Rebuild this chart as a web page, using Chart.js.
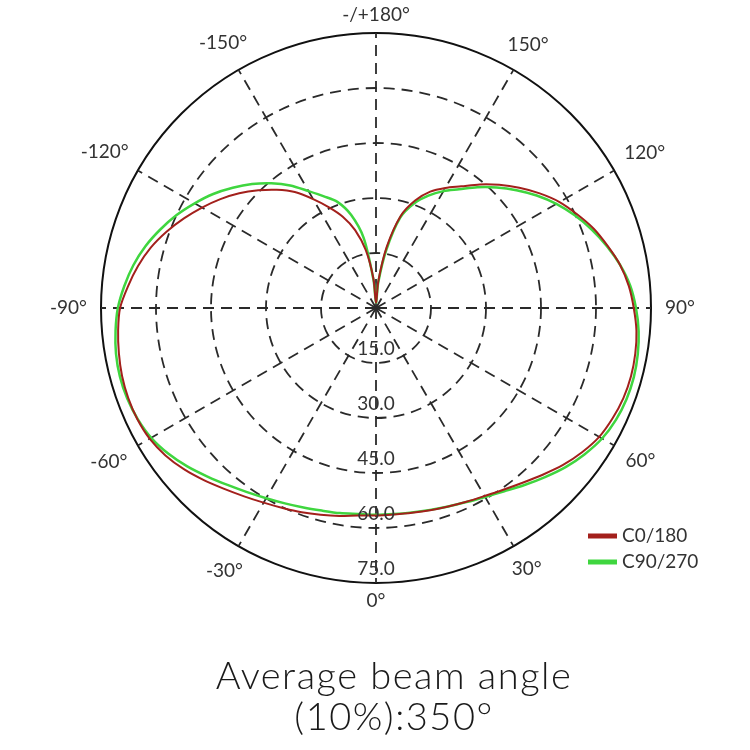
<!DOCTYPE html>
<html>
<head>
<meta charset="utf-8">
<script src="https://cdn.jsdelivr.net/npm/chart.js@4.4.1/dist/chart.umd.min.js"></script>
<style>
  body { margin: 0; background: #fff; }
  canvas { display: block; }
</style>
</head>
<body>
<canvas id="polar" width="750" height="750"></canvas>
<script>
// angles in degrees, clockwise from the top of the diagram
const angles = [
  180, 175, 170, 165, 160, 155, 150, 145, 140, 135, 130, 125,
  120, 115, 110, 105, 100, 95, 90, 85, 80, 75, 70, 65,
  60, 55, 50, 45, 40, 35, 30, 25, 20, 15, 10, 5,
  0, -5, -10, -15, -20, -25, -30, -35, -40, -45, -50, -55,
  -60, -65, -70, -75, -80, -85, -90, -95, -100, -105, -110, -115,
  -120, -125, -130, -135, -140, -145, -150, -155, -160, -165, -170, -175
];

const c0_180 = [
  1.5, 7.5, 17, 26, 31.2, 35, 37.8, 40.5, 44, 47.5, 51, 54.5,
  57.8, 60.5, 63.2, 65.4, 67.6, 69.2, 70.3, 71.3, 71.8, 72, 71.8, 71.2,
  70.3, 68.6, 66.6, 64.3, 62.2, 60.5, 59.2, 58.3, 57.6, 57.1, 56.7, 56.5,
  56.6, 56.8, 57.6, 58.4, 59.3, 60.2, 61.3, 62.7, 64.4, 66.4, 68.4, 70.1,
  71.3, 71.8, 71.9, 71.7, 71.2, 70.6, 69.8, 67.9, 65.9, 63.6, 60.8, 57.8,
  54.8, 51.8, 48.7, 45.4, 42.1, 38.6, 34.3, 30.3, 26.5, 22, 16, 8
];

const c90_270 = [
  1.5, 7, 16, 25.5, 30.3, 33.8, 36.8, 39.5, 43, 46.5, 50, 53.5,
  56.8, 59.8, 62.6, 65.2, 67.6, 69.6, 70.9, 71.9, 72.5, 72.8, 72.7, 72.2,
  71.2, 69.5, 67.5, 65.2, 63, 61, 59.5, 58.4, 57.6, 57, 56.6, 56.4,
  56.4, 56.4, 56.8, 57.2, 57.9, 58.8, 59.9, 61.3, 63, 65, 67.2, 69.2,
  70.8, 71.7, 72.2, 72.3, 72, 71.3, 70.4, 68.9, 67.2, 65.1, 62.6, 60,
  57.1, 54.2, 51, 47.8, 44.4, 40.8, 36.8, 33.6, 30.8, 26.3, 19.4, 7.5
];

const ringValues = [15, 30, 45, 60, 75];
const ringLabels = ['15.0', '30.0', '45.0', '60.0', '75.0'];

const shownAngles = [180, 150, 120, 90, 60, 30, 0, -30, -60, -90, -120, -150];
const shownAngleText = ['-/+180°', '150°', '120°', '90°', '60°', '30°', '0°', '-30°', '-60°', '-90°', '-120°', '-150°'];

const titleLines = ['Average beam angle', '(10%):350°'];

const labelFont = '19px Lato, "DejaVu Sans", sans-serif';
const textColor = '#333';
const gridColor = '#2a2a2a';

// ring labels, angle labels, legend and caption
const decorPlugin = {
  id: 'decor',
  afterDraw(chart) {
    const ctx = chart.ctx;
    const r = chart.scales.r;
    ctx.save();
    ctx.font = labelFont;
    ctx.fillStyle = textColor;
    ctx.textAlign = 'center';
    ctx.textBaseline = 'middle';

    ringValues.forEach((v, i) => {
      const d = r.getDistanceFromCenterForValue(v);
      ctx.fillText(ringLabels[i], r.xCenter, r.yCenter + d - 14);
    });

    shownAngles.forEach((a, i) => {
      const idx = angles.indexOf(a);
      const txt = shownAngleText[i];
      const w = ctx.measureText(txt).width;
      const h = 16;
      const base = r.getPointPosition(idx, r.drawingArea);
      const extra = 10 + Math.abs(Math.cos(base.angle)) * (w / 2 + 4) + Math.abs(Math.sin(base.angle)) * h / 2;
      const p = r.getPointPosition(idx, r.drawingArea + extra);
      ctx.fillText(txt, p.x, p.y);
    });

    // legend
    ctx.textAlign = 'left';
    chart.data.datasets.forEach((ds, i) => {
      const y = 536 + i * 26;
      ctx.strokeStyle = ds.borderColor;
      ctx.lineWidth = 5;
      ctx.beginPath();
      ctx.moveTo(588, y);
      ctx.lineTo(617, y);
      ctx.stroke();
      ctx.fillText(ds.label, 622, y);
    });

    // caption
    ctx.font = '300 38px Lato, "DejaVu Sans", sans-serif';
    ctx.letterSpacing = '1.5px';
    ctx.fillStyle = '#1a1a1a';
    ctx.textAlign = 'center';
    titleLines.forEach((t, i) => {
      ctx.fillText(t, 394, 677 + i * 41);
    });
    ctx.restore();
  }
};

const ctx = document.getElementById('polar').getContext('2d');
const myChart = new Chart(ctx, {
  type: 'radar',
  data: {
    labels: angles.map(a => a + '°'),
    datasets: [{
      label: 'C0/180',
      data: c0_180,
      borderColor: '#a3201c',
      borderWidth: 2,
      fill: false,
      tension: 0.3,
      pointRadius: 0
    }, {
      label: 'C90/270',
      data: c90_270,
      borderColor: '#3fd63f',
      borderWidth: 2.5,
      fill: false,
      tension: 0.3,
      pointRadius: 0
    }]
  },
  options: {
    responsive: false,
    animation: false,
    layout: {
      padding: { top: 33, bottom: 167, left: 2, right: 0 }
    },
    plugins: {
      legend: { display: false },
      title: { display: false },
      tooltip: { enabled: false }
    },
    scales: {
      r: {
        min: 0,
        max: 75,
        startAngle: 0,
        ticks: { display: false, stepSize: 15 },
        pointLabels: { display: false },
        grid: {
          circular: true,
          color: c => c.index === 5 ? '#111' : gridColor,
          lineWidth: c => c.index === 5 ? 2 : 1.8
        },
        border: {
          dash: c => c.index === 5 ? [] : [11, 7]
        },
        angleLines: {
          color: gridColor,
          lineWidth: c => (angles[c.index] % 30 === 0 ? 1.8 : 0),
          borderDash: [11, 7]
        }
      }
    }
  },
  plugins: [decorPlugin]
});
</script>
</body>
</html>
